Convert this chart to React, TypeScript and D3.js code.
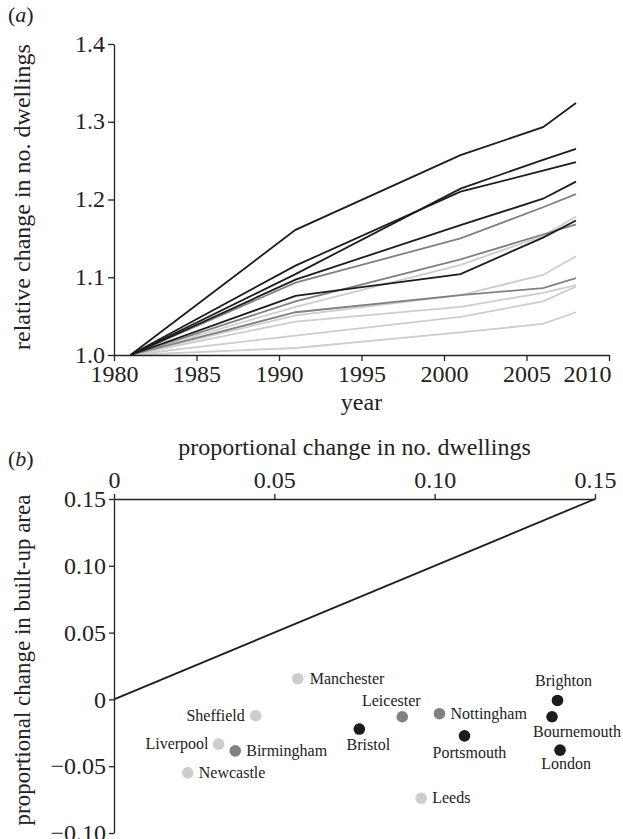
import { useEffect, useRef } from 'react'
import * as d3 from 'd3'

// panel (a): census years and relative change in dwellings per city
const years = [1981, 1991, 2001, 2006, 2008]

const darkSeries = [
  [1.0, 1.161, 1.257, 1.293, 1.324],
  [1.0, 1.104, 1.214, 1.251, 1.265],
  [1.0, 1.115, 1.210, 1.237, 1.248],
  [1.0, 1.097, 1.167, 1.201, 1.223],
  [1.0, 1.076, 1.104, 1.151, 1.173],
]
const midSeries = [
  [1.0, 1.093, 1.150, 1.190, 1.207],
  [1.0, 1.069, 1.123, 1.155, 1.168],
  [1.0, 1.055, 1.077, 1.086, 1.099],
]
const lightSeries = [
  [1.0, 1.062, 1.116, 1.153, 1.178],
  [1.0, 1.051, 1.077, 1.103, 1.127],
  [1.0, 1.043, 1.062, 1.080, 1.090],
  [1.0, 1.025, 1.049, 1.069, 1.088],
  [1.0, 1.009, 1.029, 1.040, 1.055],
]

const yTicksA = [1.0, 1.1, 1.2, 1.3, 1.4]
const xTicksA = [1980, 1985, 1990, 1995, 2000, 2005, 2010]

// panel (b): proportional change in dwellings vs built-up area
const cities = [
  'Manchester', 'Sheffield', 'Liverpool', 'Birmingham', 'Newcastle', 'Bristol', 'Leicester',
  'Nottingham', 'Leeds', 'Portsmouth', 'Brighton', 'Bournemouth', 'London',
]
const dwellingChange = [0.0573, 0.0442, 0.0326, 0.0378, 0.023, 0.0765, 0.0899, 0.1015, 0.0958, 0.1093, 0.1383, 0.1366, 0.1391]
const builtUpChange = [0.0155, -0.0122, -0.0335, -0.0385, -0.055, -0.0222, -0.013, -0.0107, -0.074, -0.0273, -0.0008, -0.013, -0.038]
const cityGroup = ['light', 'light', 'light', 'mid', 'light', 'dark', 'mid', 'mid', 'light', 'dark', 'dark', 'dark', 'dark']

const ticksB = [0, 0.05, 0.1, 0.15]
const yTicksB = [-0.1, -0.05, 0, 0.05, 0.1, 0.15]

const tone: Record<string, string> = { dark: '#1c1c1c', mid: '#808080', light: '#cdcdcd' }

const labelOffset: Record<string, [number, number, string]> = {
  Manchester: [12, 5, 'start'],
  Sheffield: [-11, 5, 'end'],
  Liverpool: [-10, 5, 'end'],
  Birmingham: [11, 5, 'start'],
  Newcastle: [11, 5, 'start'],
  Bristol: [9, 21, 'middle'],
  Leicester: [-11, -11, 'middle'],
  Nottingham: [11, 5, 'start'],
  Leeds: [11, 5, 'start'],
  Portsmouth: [5, 22, 'middle'],
  Brighton: [6, -14, 'middle'],
  Bournemouth: [25, 20, 'middle'],
  London: [6, 19, 'middle'],
}

const FONT = "'Liberation Serif', 'DejaVu Serif', serif"
const TICK_SIZE = 24
const TITLE_SIZE = 24

const App = () => {
  const svgRef = useRef<SVGSVGElement | null>(null)

  useEffect(() => {
    if (!svgRef.current) return
    const svg = d3.select(svgRef.current)
    svg.selectAll('*').remove()
    svg.style('font-family', FONT)

    // ---------- panel (a) ----------
    const xA = d3.scaleLinear().domain([1980, 2010]).range([114, 609])
    const yA = d3.scaleLinear().domain([1.0, 1.4]).range([355, 44])

    const gA = svg.append('g')

    const line = d3
      .line<number>()
      .x((_, i) => xA(years[i]))
      .y((d) => yA(d))

    const groups: [number[][], string][] = [
      [lightSeries, tone.light],
      [midSeries, tone.mid],
      [darkSeries, tone.dark],
    ]
    groups.forEach(([series, color]) => {
      gA.append('g')
        .selectAll('path')
        .data(series)
        .enter()
        .append('path')
        .attr('d', line)
        .attr('fill', 'none')
        .attr('stroke', color)
        .attr('stroke-width', 1.8)
    })

    const axA = gA.append('g')
      .attr('transform', `translate(0,${yA(1.0)})`)
      .call(d3.axisBottom(xA).tickValues(xTicksA).tickFormat(d3.format('d')).tickSize(6).tickSizeOuter(0).tickPadding(3))
    const ayA = gA.append('g')
      .attr('transform', `translate(${xA(1980)},0)`)
      .call(d3.axisLeft(yA).tickValues(yTicksA).tickFormat(d3.format('.1f')).tickSize(6).tickSizeOuter(0).tickPadding(3))

    ;[axA, ayA].forEach((ax) => {
      ax.attr('font-family', null).attr('font-size', null)
      ax.selectAll('text').style('font-family', FONT).attr('font-size', TICK_SIZE).attr('fill', '#222')
      ax.selectAll('line, path').attr('stroke', '#222').attr('stroke-width', 1.3)
    })
    axA.selectAll('text').attr('dy', '0.76em')
    // last year label sits inside the picture edge
    axA.selectAll<SVGTextElement, number>('text')
      .filter((d) => d === 2010)
      .attr('text-anchor', 'end')
      .attr('x', 2)
    ayA.selectAll('text').attr('dy', '0.3em')

    gA.append('text')
      .attr('x', 8).attr('y', 22)
      .attr('font-size', 22).attr('fill', '#222')
      .html('(<tspan font-style="italic">a</tspan>)')

    gA.append('text')
      .attr('transform', `translate(30,197) rotate(-90)`)
      .attr('text-anchor', 'middle')
      .attr('font-size', TITLE_SIZE).attr('fill', '#222')
      .text('relative change in no. dwellings')

    gA.append('text')
      .attr('x', (114 + 609) / 2).attr('y', 410)
      .attr('text-anchor', 'middle')
      .attr('font-size', TITLE_SIZE).attr('fill', '#222')
      .text('year')

    // ---------- panel (b) ----------
    const xB = d3.scaleLinear().domain([0, 0.15]).range([114, 595])
    const yB = d3.scaleLinear().domain([-0.1, 0.15]).range([833, 499])

    const gB = svg.append('g')

    const axB = gB.append('g')
      .attr('transform', `translate(0,${yB(0.15)})`)
      .call(d3.axisTop(xB).tickValues(ticksB).tickFormat((d) => (d === 0 ? '0' : d3.format('.2f')(d as number))).tickSize(5).tickSizeOuter(0).tickPadding(6))
    const ayB = gB.append('g')
      .attr('transform', `translate(${xB(0)},0)`)
      .call(d3.axisLeft(yB).tickValues(yTicksB).tickFormat((d) => (d === 0 ? '0' : d3.format('.2f')(d as number).replace('-', '\u2212'))).tickSize(5).tickSizeOuter(0).tickPadding(3))

    ;[axB, ayB].forEach((ax) => {
      ax.attr('font-family', null).attr('font-size', null)
      ax.selectAll('text').style('font-family', FONT).attr('font-size', TICK_SIZE).attr('fill', '#222')
      ax.selectAll('line, path').attr('stroke', '#222').attr('stroke-width', 1.3)
    })
    ayB.selectAll('text').attr('dy', '0.32em')

    // 1:1 reference line
    gB.append('line')
      .attr('x1', xB(0)).attr('y1', yB(0))
      .attr('x2', xB(0.15)).attr('y2', yB(0.15))
      .attr('stroke', '#1c1c1c')
      .attr('stroke-width', 1.8)

    const pts = cities.map((name, i) => ({
      name,
      x: dwellingChange[i],
      y: builtUpChange[i],
      group: cityGroup[i],
    }))

    gB.append('g')
      .selectAll('circle')
      .data(pts)
      .enter()
      .append('circle')
      .attr('cx', (d) => xB(d.x))
      .attr('cy', (d) => yB(d.y))
      .attr('r', 5.8)
      .attr('fill', (d) => tone[d.group])

    gB.append('g')
      .selectAll('text')
      .data(pts)
      .enter()
      .append('text')
      .attr('x', (d) => xB(d.x) + labelOffset[d.name][0])
      .attr('y', (d) => yB(d.y) + labelOffset[d.name][1])
      .attr('text-anchor', (d) => labelOffset[d.name][2])
      .attr('font-size', 16)
      .attr('fill', '#222')
      .text((d) => d.name)

    gB.append('text')
      .attr('x', 8).attr('y', 466)
      .attr('font-size', 22).attr('fill', '#222')
      .html('(<tspan font-style="italic">b</tspan>)')

    gB.append('text')
      .attr('x', (114 + 595) / 2).attr('y', 455)
      .attr('text-anchor', 'middle')
      .attr('font-size', TITLE_SIZE).attr('fill', '#222')
      .text('proportional change in no. dwellings')

    gB.append('text')
      .attr('transform', `translate(30,660) rotate(-90)`)
      .attr('text-anchor', 'middle')
      .attr('font-size', 23).attr('fill', '#222')
      .text('proportional change in built-up area')
  }, [])

  return (
    <svg
      ref={svgRef}
      width={623}
      height={839}
      style={{ position: 'absolute', left: 0, top: 0, background: '#fff' }}
    />
  )
}

export default App
